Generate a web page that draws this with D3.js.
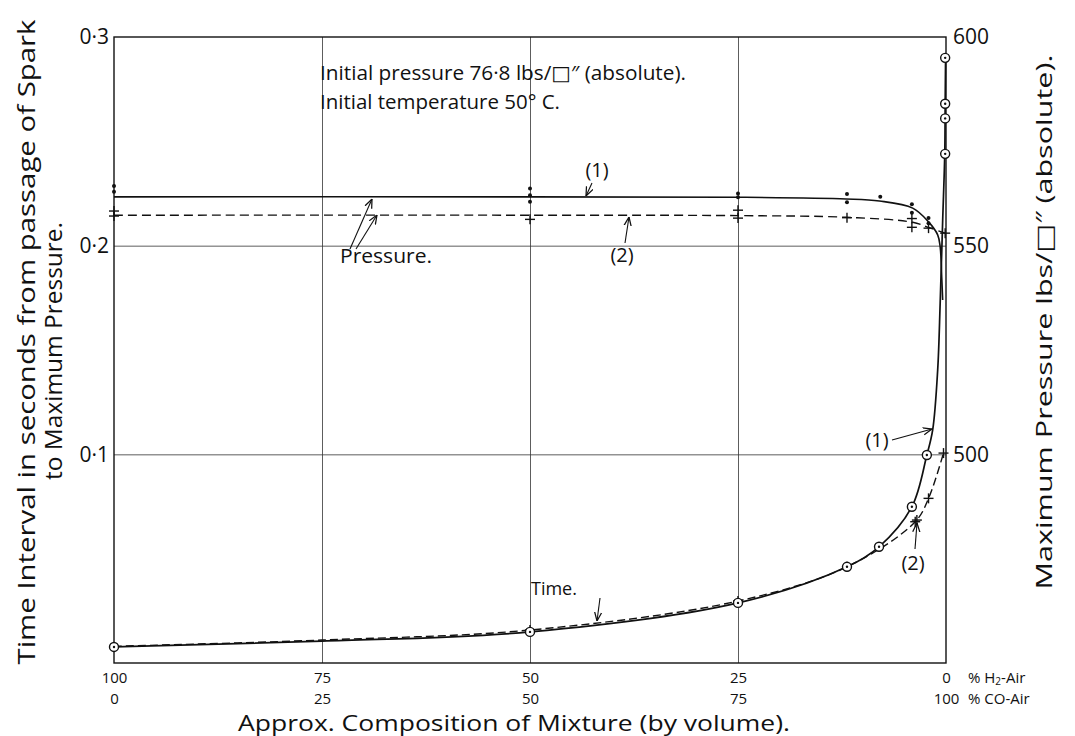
<!DOCTYPE html>
<html>
<head>
<meta charset="utf-8">
<script src="https://cdn.jsdelivr.net/npm/d3@7"></script>
<style>
  body { margin: 0; background: #fff; }
  svg { display: block; }
  text { font-family: "Open Sans", "DejaVu Sans", sans-serif; fill: #111; }
</style>
</head>
<body>
<svg id="chart" width="1075" height="736"></svg>
<script>
// ---- data (H2 % in air) ----
const h2Ticks = [100, 75, 50, 25, 0];
const coTicks = [0, 25, 50, 75, 100];
const timeTicks = [0.1, 0.2, 0.3];
const pressureTicks = [500, 550, 600];

// time curve (1), drawn line and measured points (circles)
const time1Line = [[100, 0.0077], [75, 0.0105], [50, 0.0149], [25, 0.0288], [11.9, 0.0461], [8.05, 0.0557],
  [4.1, 0.0749], [2.3, 0.0997], [1.6, 0.1117], [1.0, 0.1404], [0.7, 0.1725], [0.4, 0.212], [0.15, 0.244], [0.1, 0.268], [0.05, 0.290]];
const time1Points = [[100, 0.0077], [50, 0.0149], [25, 0.0288], [11.9, 0.0461], [8.05, 0.0557], [4.1, 0.0749],
  [2.3, 0.0997], [0.1, 0.290], [0.1, 0.268], [0.1, 0.261], [0.1, 0.244]];

// time curve (2), dashed, measured points (crosses)
const time2Line = [[100, 0.0080], [75, 0.0110], [50, 0.0158], [25, 0.0297], [11.9, 0.0461], [3.7, 0.0677], [2.1, 0.0789], [0.3, 0.1006]];
const time2Points = [[50, 0.0158], [25, 0.0297], [11.9, 0.0461], [3.7, 0.0677], [3.5, 0.0685], [2.1, 0.0789], [0.3, 0.1006]];

// pressure curve (1), solid, measured points (dots)
const press1Line = [[100, 561.7], [50, 561.7], [25, 561.6], [12, 561.2], [8, 560.7], [4, 559.0], [2.1, 555.7],
  [1.0, 552.6], [0.7, 549.7], [0.5, 541.8], [0.4, 537]];
const press1Points = [[100, 564.3], [100, 562.9], [50, 563.7], [50, 562.1], [50, 560.5], [25, 562.5], [25, 561.6],
  [11.9, 562.4], [11.9, 560.4], [7.9, 561.7], [4.1, 559.9], [4.1, 557.9], [2.1, 556.6], [2.1, 555.4]];

// pressure curve (2), dashed, measured points (crosses)
const press2Line = [[100, 557.3], [50, 557.3], [25, 557.2], [12, 556.8], [4, 555.6], [2, 554.3], [0.1, 553.0]];
const press2Points = [[100, 558.3], [100, 557.1], [50, 556.3], [25, 558.5], [25, 556.6], [11.9, 556.7],
  [4.1, 556.5], [4.1, 554.4], [2.1, 554.2], [0.1, 553.0]];

(() => {
  const svg = d3.select("#chart");
  const marginL = 114, marginR = 946, marginT = 37, marginB = 663;

  const x = d3.scaleLinear().domain([100, 0]).range([marginL, marginR]);
  const yT = d3.scaleLinear().domain([0, 0.3]).range([marginB, marginT]);
  const yP = d3.scaleLinear().domain([450, 600]).range([marginB, marginT]);

  // grid lines
  svg.append("g")
    .attr("transform", `translate(0,${marginB})`)
    .call(d3.axisBottom(x).tickValues([75, 50, 25]).tickSize(-(marginB - marginT)).tickFormat(""))
    .call(g => g.select(".domain").remove())
    .call(g => g.selectAll("line").attr("stroke", "#333").attr("stroke-width", 0.8));

  svg.append("g")
    .attr("transform", `translate(${marginL},0)`)
    .call(d3.axisLeft(yT).tickValues([0.1, 0.2]).tickSize(-(marginR - marginL)).tickFormat(""))
    .call(g => g.select(".domain").remove())
    .call(g => g.selectAll("line").attr("stroke", "#333").attr("stroke-width", 0.8));

  // frame
  svg.append("rect")
    .attr("x", marginL).attr("y", marginT)
    .attr("width", marginR - marginL).attr("height", marginB - marginT)
    .attr("fill", "none").attr("stroke", "#111").attr("stroke-width", 1.4);

  // left axis labels
  svg.append("g")
    .attr("transform", `translate(${marginL},0)`)
    .call(d3.axisLeft(yT).tickValues(timeTicks).tickSize(0).tickPadding(5)
      .tickFormat(d => d3.format(".1f")(d).replace(".", "·")))
    .call(g => g.select(".domain").remove())
    .call(g => g.selectAll("text").attr("font-size", 21).attr("font-family", "Open Sans"));

  // right axis labels
  svg.append("g")
    .attr("transform", `translate(${marginR},0)`)
    .call(d3.axisRight(yP).tickValues(pressureTicks).tickSize(0).tickPadding(7))
    .call(g => g.select(".domain").remove())
    .call(g => g.selectAll("text").attr("font-size", 21).attr("font-family", "Open Sans"));

  // bottom labels, two rows (H2 % on top, CO % below)
  const bottomAxis = svg.append("g")
    .attr("transform", `translate(0,${marginB})`)
    .call(d3.axisBottom(x).tickValues(h2Ticks).tickSize(0).tickPadding(9))
    .call(g => g.select(".domain").remove());
  bottomAxis.selectAll("text")
    .attr("font-size", 15).attr("font-family", "Open Sans")
    .each(function (d, i) {
      d3.select(this).append("tspan")
        .attr("x", 0).attr("dy", "1.4em")
        .text(coTicks[i]);
    });

  const suffix = svg.append("g").attr("font-size", 15);
  const h2Label = suffix.append("text")
    .attr("x", x(0) + 22).attr("y", marginB + 20)
    .text("% H");
  h2Label.append("tspan").attr("dy", 2).attr("font-size", 10).text("2");
  h2Label.append("tspan").attr("dy", -2).text("-Air");
  suffix.append("text")
    .attr("x", x(0) + 22).attr("y", marginB + 41)
    .text("% CO-Air");

  // axis titles
  svg.append("text")
    .attr("x", 514).attr("y", 731)
    .attr("text-anchor", "middle").attr("font-size", 21.5)
    .attr("textLength", 552).attr("lengthAdjust", "spacingAndGlyphs")
    .text("Approx. Composition of Mixture (by volume).");

  svg.append("text")
    .attr("transform", `translate(35,342) rotate(-90)`)
    .attr("text-anchor", "middle").attr("font-size", 23)
    .attr("textLength", 645).attr("lengthAdjust", "spacingAndGlyphs")
    .text("Time Interval in seconds from passage of Spark");
  svg.append("text")
    .attr("transform", `translate(62,351) rotate(-90)`)
    .attr("text-anchor", "middle").attr("font-size", 23)
    .attr("textLength", 258).attr("lengthAdjust", "spacingAndGlyphs")
    .text("to Maximum Pressure.");

  svg.append("text")
    .attr("transform", `translate(1052,322) rotate(-90)`)
    .attr("text-anchor", "middle").attr("font-size", 22)
    .attr("textLength", 535).attr("lengthAdjust", "spacingAndGlyphs")
    .text("Maximum Pressure lbs/□″ (absolute).");

  // curves
  const line = (ys) => d3.line()
    .x(d => x(d[0])).y(d => ys(d[1]))
    .curve(d3.curveCatmullRom.alpha(0.5));

  svg.append("path").datum(press1Line)
    .attr("d", line(yP)).attr("fill", "none").attr("stroke", "#111").attr("stroke-width", 1.6);
  svg.append("path").datum(press2Line)
    .attr("d", line(yP)).attr("fill", "none").attr("stroke", "#111").attr("stroke-width", 1.4)
    .attr("stroke-dasharray", "9,5");
  svg.append("path").datum(time1Line)
    .attr("d", line(yT)).attr("fill", "none").attr("stroke", "#111").attr("stroke-width", 1.7);
  svg.append("path").datum(time2Line)
    .attr("d", line(yT)).attr("fill", "none").attr("stroke", "#111").attr("stroke-width", 1.4)
    .attr("stroke-dasharray", "8,4");

  // markers
  const crosses = (data, ys) => {
    const g = svg.append("g").attr("stroke", "#111").attr("stroke-width", 1.4);
    data.forEach(d => {
      const cx = x(d[0]), cy = ys(d[1]);
      g.append("line").attr("x1", cx - 5).attr("x2", cx + 5).attr("y1", cy).attr("y2", cy);
      g.append("line").attr("x1", cx).attr("x2", cx).attr("y1", cy - 5).attr("y2", cy + 5);
    });
  };

  svg.append("g").selectAll("circle").data(press1Points).join("circle")
    .attr("cx", d => x(d[0])).attr("cy", d => yP(d[1])).attr("r", 2).attr("fill", "#111");
  crosses(press2Points, yP);
  crosses(time2Points, yT);

  const rings = svg.append("g").selectAll("g").data(time1Points).join("g")
    .attr("transform", d => `translate(${x(d[0])},${yT(d[1])})`);
  rings.append("circle").attr("r", 4.5).attr("fill", "#fff").attr("stroke", "#111").attr("stroke-width", 1.4);
  rings.append("circle").attr("r", 1.2).attr("fill", "#111");

  // annotations
  svg.append("defs").append("marker")
    .attr("id", "arrow").attr("viewBox", "0 0 10 10")
    .attr("refX", 10).attr("refY", 5)
    .attr("markerWidth", 9).attr("markerHeight", 9)
    .attr("markerUnits", "userSpaceOnUse")
    .attr("orient", "auto")
    .append("path").attr("d", "M0,1 L10,5 L0,9").attr("fill", "none").attr("stroke", "#111").attr("stroke-width", 1.4);

  const notes = svg.append("g").attr("font-size", 20);
  notes.append("text").attr("x", 320).attr("y", 80)
    .attr("textLength", 366).attr("lengthAdjust", "spacingAndGlyphs")
    .text("Initial pressure 76·8 lbs/□″ (absolute).");
  notes.append("text").attr("x", 320).attr("y", 109)
    .attr("textLength", 240).attr("lengthAdjust", "spacingAndGlyphs")
    .text("Initial temperature 50° C.");
  notes.append("text").attr("x", 597).attr("y", 177).attr("text-anchor", "middle").text("(1)");
  notes.append("text").attr("x", 622).attr("y", 262).attr("text-anchor", "middle").text("(2)");
  notes.append("text").attr("x", 340).attr("y", 263)
    .attr("textLength", 92).attr("lengthAdjust", "spacingAndGlyphs").text("Pressure.");
  notes.append("text").attr("x", 531).attr("y", 595).attr("font-size", 18).text("Time.");
  notes.append("text").attr("x", 877).attr("y", 447).attr("text-anchor", "middle").text("(1)");
  notes.append("text").attr("x", 913).attr("y", 570).attr("text-anchor", "middle").text("(2)");

  const arrows = [
    [592, 183, 586, 196],
    [625, 243, 629, 217],
    [350, 249, 372, 199],
    [356, 249, 377, 215],
    [600, 598, 597, 621],
    [892, 440, 932, 429],
    [915, 549, 917, 523]
  ];
  svg.append("g").selectAll("line").data(arrows).join("line")
    .attr("x1", d => d[0]).attr("y1", d => d[1]).attr("x2", d => d[2]).attr("y2", d => d[3])
    .attr("stroke", "#111").attr("stroke-width", 1.1)
    .attr("marker-end", "url(#arrow)");
})();
</script>
</body>
</html>
